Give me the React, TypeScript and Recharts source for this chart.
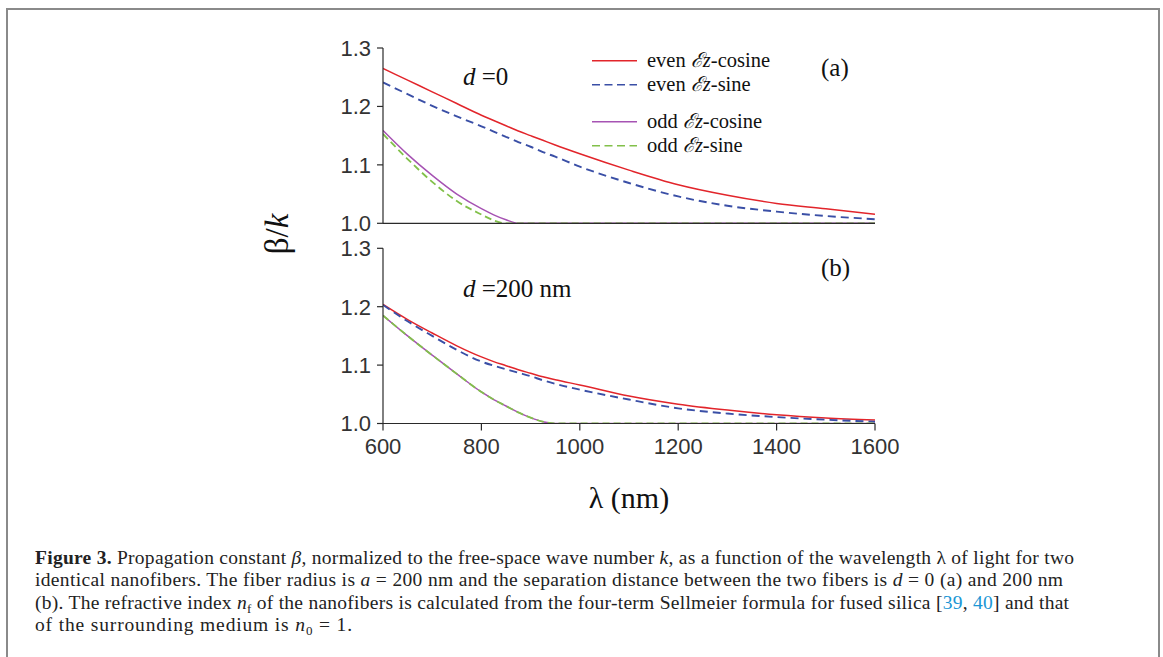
import React from 'react';
import { LineChart, Line, XAxis, YAxis, Legend } from 'recharts';

// wavelength samples (nm)
const wavelengths = [600, 650, 700, 750, 800, 825, 850, 875, 900, 925, 950, 1000, 1100, 1200, 1300, 1400, 1500, 1600];

// (a) d = 0
const aEvenCos = [1.265, 1.245, 1.225, 1.205, 1.185, 1.176, 1.167, 1.158, 1.150, 1.142, 1.134, 1.119, 1.091, 1.066, 1.048, 1.034, 1.025, 1.0155];
const aEvenSin = [1.241, 1.221, 1.201, 1.183, 1.166, 1.157, 1.148, 1.139, 1.131, 1.122, 1.114, 1.097, 1.069, 1.046, 1.030, 1.020, 1.0125, 1.007];
const aOddCos = [1.159, 1.118, 1.082, 1.050, 1.025, 1.0145, 1.006, 1.0, 1.0, 1.0, 1.0, 1.0, 1.0, 1.0, 1.0, 1.0, 1.0, 1.0];
const aOddSin = [1.153, 1.110, 1.071, 1.038, 1.015, 1.005, 1.0, 1.0, 1.0, 1.0, 1.0, 1.0, 1.0, 1.0, 1.0, 1.0, 1.0, 1.0];

// (b) d = 200 nm
const bEvenCos = [1.204, 1.178, 1.155, 1.133, 1.114, 1.106, 1.099, 1.092, 1.086, 1.080, 1.075, 1.066, 1.047, 1.033, 1.023, 1.015, 1.0095, 1.006];
const bEvenSin = [1.203, 1.175, 1.150, 1.126, 1.106, 1.099, 1.093, 1.087, 1.081, 1.074, 1.068, 1.058, 1.041, 1.026, 1.017, 1.011, 1.0065, 1.003];
const bOddCos = [1.185, 1.150, 1.117, 1.085, 1.054, 1.041, 1.030, 1.019, 1.010, 1.003, 1.0, 1.0, 1.0, 1.0, 1.0, 1.0, 1.0, 1.0];
const bOddSin = [1.185, 1.150, 1.117, 1.085, 1.054, 1.041, 1.030, 1.019, 1.010, 1.003, 1.0, 1.0, 1.0, 1.0, 1.0, 1.0, 1.0, 1.0];

const xTicks = [600, 800, 1000, 1200, 1400, 1600];
const yTicks = [1.0, 1.1, 1.2, 1.3];

const seriesKeys = ['evenCos', 'evenSin', 'oddCos', 'oddSin'];
const seriesParity = ['even', 'even', 'odd', 'odd'];
const seriesKind = ['cosine', 'sine', 'cosine', 'sine'];
const seriesColors = ['#e2252b', '#3a4fa6', '#a653b3', '#82c04a'];
const seriesDash = [undefined, '8 5', undefined, '7 4'];
const seriesWidths = [1.5, 1.9, 1.5, 1.8];

const makeRows = (a: number[], b: number[], c: number[], d: number[]) =>
  wavelengths.map((w, i) => ({ w, evenCos: a[i], evenSin: b[i], oddCos: c[i], oddSin: d[i] }));

const dataA = makeRows(aEvenCos, aEvenSin, aOddCos, aOddSin);
const dataB = makeRows(bEvenCos, bEvenSin, bOddCos, bOddSin);

const AX = '#2a2a2a';
const tickFont = { fill: '#333', fontSize: 22, fontFamily: '"Liberation Sans", Arial, sans-serif' };
const serif = '"Liberation Serif", "Times New Roman", serif';

function LegendBox() {
  const rows = [0, 24, 61, 85];
  return (
    <svg width={260} height={120} style={{ display: 'block' }}>
      {seriesKeys.map((k, i) => (
        <g key={k}>
          <line x1={7} x2={52} y1={rows[i] + 15.7} y2={rows[i] + 15.7} stroke={seriesColors[i]} strokeWidth={1.5}
            strokeDasharray={seriesDash[i] ? '8 4.5' : undefined} />
          <text x={62} y={rows[i] + 21.7} fontFamily={serif} fontSize={20.5} fill="#111">
            {seriesParity[i]}{' '}
            <tspan fontStyle="italic">ℰ</tspan>
            <tspan fontStyle="italic">z</tspan>
            -{seriesKind[i]}
          </text>
        </g>
      ))}
    </svg>
  );
}

function Panel(props: { data: any[]; top: number; height: number; margin: any; xHeight: number; showLabels: boolean; legend?: boolean }) {
  const { data, top, height, margin, xHeight, showLabels, legend } = props;
  return (
    <div style={{ position: 'absolute', left: 0, top, width: 1163, height }}>
      <LineChart width={1163} height={height} data={data} margin={margin}>
        <XAxis
          dataKey="w"
          type="number"
          domain={[600, 1600]}
          ticks={xTicks}
          interval={0}
          allowDataOverflow
          height={xHeight}
          tickSize={7}
          tickMargin={8}
          stroke={AX}
          strokeWidth={1.2}
          tick={showLabels ? tickFont : false}
        />
        <YAxis
          type="number"
          domain={[1.0, 1.3]}
          ticks={yTicks}
          interval={0}
          allowDataOverflow
          width={60}
          tickSize={6}
          tickMargin={6}
          stroke={AX}
          strokeWidth={1.2}
          tick={tickFont}
          tickFormatter={(v: number) => v.toFixed(1)}
        />
        {legend && (
          <Legend
            layout="horizontal"
            verticalAlign="middle"
            align="center"
            wrapperStyle={{ left: 585, top: 45, width: 260, height: 120 }}
            content={() => <LegendBox />}
          />
        )}
        {seriesKeys.map((k, i) => (
          <Line
            key={k}
            dataKey={k}
            name={`${seriesParity[i]} ℰz-${seriesKind[i]}`}
            type="monotone"
            stroke={seriesColors[i]}
            strokeWidth={seriesWidths[i]}
            strokeDasharray={seriesDash[i]}
            dot={false}
            activeDot={false}
            isAnimationActive={false}
          />
        ))}
      </LineChart>
    </div>
  );
}

export default function App() {
  return (
    <div style={{ position: 'absolute', left: 0, top: 0, width: 1163, height: 657, overflow: 'hidden', background: '#fff' }}>
      <div style={{ position: 'absolute', left: 6, top: 8, width: 1150, height: 700, border: '2px solid #8a8a8a' }} />
      <Panel data={dataA} top={0} height={240} margin={{ top: 48, right: 288, bottom: 6.7, left: 323 }} xHeight={10} showLabels={false} legend />
      <Panel data={dataB} top={230} height={270} margin={{ top: 18.3, right: 288, bottom: 36.5, left: 323 }} xHeight={40} showLabels />
      <svg width={1163} height={657} style={{ position: 'absolute', left: 0, top: 0, pointerEvents: 'none' }}>
        <text x={463} y={85} fontFamily={serif} fontSize={25} fill="#111">
          <tspan fontStyle="italic">d</tspan> =0
        </text>
        <text x={821} y={76} fontFamily={serif} fontSize={25} fill="#111">(a)</text>
        <text x={463} y={297} fontFamily={serif} fontSize={25} fill="#111">
          <tspan fontStyle="italic">d</tspan> =200 nm
        </text>
        <text x={821} y={276} fontFamily={serif} fontSize={25} fill="#111">(b)</text>
        <text transform="translate(288,234) rotate(-90)" textAnchor="middle" fontFamily={serif} fontSize={33} fill="#111">
          β/<tspan fontStyle="italic">k</tspan>
        </text>
        <text x={629} y={508} textAnchor="middle" fontFamily={serif} fontSize={30} fill="#111">λ (nm)</text>
        <g fontFamily={serif} fontSize={19.5} fill="#222">
          <text x={35} y={564} textLength={1039} lengthAdjust="spacing">
            <tspan fontWeight="bold">Figure 3.</tspan>{'  '}Propagation constant <tspan fontStyle="italic">β</tspan>, normalized to the free-space wave number <tspan fontStyle="italic">k</tspan>, as a function of the wavelength λ of light for two
          </text>
          <text x={35} y={586} textLength={1028} lengthAdjust="spacing">
            identical nanofibers. The fiber radius is <tspan fontStyle="italic">a</tspan> = 200 nm and the separation distance between the two fibers is <tspan fontStyle="italic">d</tspan> = 0 (a) and 200 nm
          </text>
          <text x={35} y={609} textLength={1034} lengthAdjust="spacing">
            (b). The refractive index <tspan fontStyle="italic">n</tspan><tspan fontSize={13} dy={4}>f</tspan><tspan dy={-4}> of the nanofibers is calculated from the four-term Sellmeier formula for fused silica [</tspan><tspan fill="#1a96d4">39</tspan>, <tspan fill="#1a96d4">40</tspan>] and that
          </text>
          <text x={35} y={631} textLength={317} lengthAdjust="spacing">
            of the surrounding medium is <tspan fontStyle="italic">n</tspan><tspan fontSize={13} dy={4}>0</tspan><tspan dy={-4}> = 1.</tspan>
          </text>
        </g>
      </svg>
    </div>
  );
}
